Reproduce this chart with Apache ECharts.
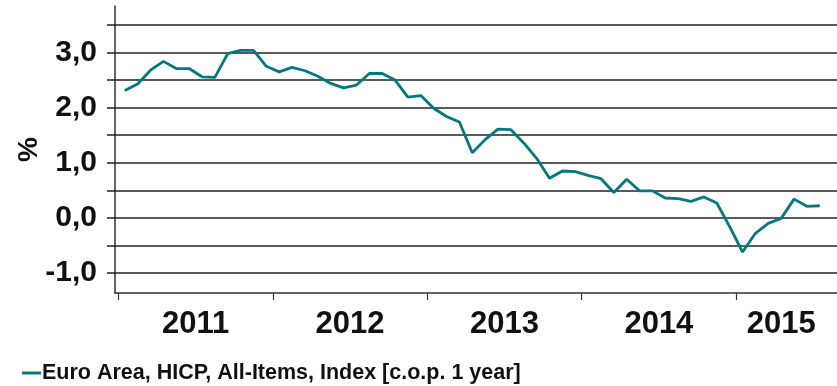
<!DOCTYPE html>
<html>
<head>
<meta charset="utf-8">
<script src="https://cdn.jsdelivr.net/npm/echarts@6/dist/echarts.min.js"></script>
<style>
html,body{margin:0;padding:0;background:#fff;}
#chart{width:837px;height:386px;}
</style>
</head>
<body>
<div id="chart"></div>
<script>
// Monthly values, Jan 2011 .. Jul 2015
const months = [
  '2011-01','2011-02','2011-03','2011-04','2011-05','2011-06','2011-07','2011-08','2011-09','2011-10','2011-11','2011-12',
  '2012-01','2012-02','2012-03','2012-04','2012-05','2012-06','2012-07','2012-08','2012-09','2012-10','2012-11','2012-12',
  '2013-01','2013-02','2013-03','2013-04','2013-05','2013-06','2013-07','2013-08','2013-09','2013-10','2013-11','2013-12',
  '2014-01','2014-02','2014-03','2014-04','2014-05','2014-06','2014-07','2014-08','2014-09','2014-10','2014-11','2014-12',
  '2015-01','2015-02','2015-03','2015-04','2015-05','2015-06','2015-07'
];
const hicp = [
  2.31, 2.43, 2.68, 2.84, 2.71, 2.71, 2.56, 2.55, 2.98, 3.04, 3.04, 2.75,
  2.65, 2.73, 2.67, 2.57, 2.44, 2.36, 2.41, 2.62, 2.62, 2.50, 2.19, 2.22,
  1.99, 1.84, 1.74, 1.18, 1.42, 1.61, 1.60, 1.36, 1.08, 0.72, 0.85, 0.84,
  0.77, 0.71, 0.46, 0.70, 0.49, 0.49, 0.36, 0.35, 0.30, 0.38, 0.27, -0.16,
  -0.62, -0.28, -0.10, -0.01, 0.34, 0.21, 0.22
];
const years = ['2011', '2012', '2013', '2014', '2015'];
const yGridValues = [-1.0, -0.5, 0.0, 0.5, 1.0, 1.5, 2.0, 2.5, 3.0, 3.5];
const yLabelValues = [-1, 0, 1, 2, 3];
const seriesName = 'Euro Area, HICP, All-Items, Index [c.o.p. 1 year]';

// month index axis: point i sits in the middle of its month
const seriesData = hicp.map((v, i) => [i + 0.5, v]);
const yearStarts = years.map((y, k) => k * 12);
const yearCenters = years.map((y, k) => (k * 12 + Math.min(k * 12 + 12, months.length)) / 2);

const FONT = 'Liberation Sans, Arial, sans-serif';
const chart = echarts.init(document.getElementById('chart'), null, {renderer: 'canvas'});
chart.setOption({
  animation: false,
  backgroundColor: '#ffffff',
  grid: {left: 115, right: 0, top: 6, bottom: 93, containLabel: false},
  legend: {
    left: 17, top: 357,
    itemWidth: 19, itemHeight: 3, itemGap: 10,
    textStyle: {fontFamily: FONT, fontWeight: 'bold', fontSize: 21.5, color: '#111', padding: [0,0,0,-4]},
    data: [{name: seriesName, icon: 'rect'}]
  },
  xAxis: {
    type: 'value',
    min: -0.26, max: 55.84,
    axisLine: {show: true, onZero: false, lineStyle: {color: '#333', width: 1.5}},
    axisTick: {show: true, length: 7, customValues: yearStarts, lineStyle: {color: '#333', width: 1.2}},
    splitLine: {show: false},
    axisLabel: {
      customValues: yearCenters,
      formatter: function (v) {
        const k = yearCenters.findIndex(c => Math.abs(c - v) < 1e-6);
        return k >= 0 ? years[k] : '';
      },
      margin: 16,
      fontFamily: FONT, fontWeight: 'bold', fontSize: 31, color: '#111'
    }
  },
  yAxis: {
    type: 'value',
    min: -1.364, max: 3.845,
    name: '%', nameLocation: 'middle', nameRotate: 90, nameGap: 66,
    nameMoveOverlap: false,
    nameTextStyle: {fontFamily: FONT, fontWeight: 'bold', fontSize: 28, color: '#111', padding: [0, 0, 6, 0]},
    axisLine: {show: true, onZero: false, lineStyle: {color: '#333', width: 1.5}},
    axisTick: {show: true, inside: false, length: 8, customValues: yGridValues, lineStyle: {color: '#222', width: 1.5}},
    splitLine: {show: true, lineStyle: {color: '#222', width: 1.5}},
    axisLabel: {
      customValues: yLabelValues,
      formatter: v => v.toFixed(1).replace('.', ','),
      margin: 18,
      fontFamily: FONT, fontWeight: 'bold', fontSize: 30, color: '#111'
    }
  },
  series: [{
    name: seriesName,
    type: 'line',
    data: seriesData,
    symbol: 'none',
    lineStyle: {color: '#007a80', width: 2.8},
    itemStyle: {color: '#007a80'}
  }]
});
</script>
</body>
</html>
